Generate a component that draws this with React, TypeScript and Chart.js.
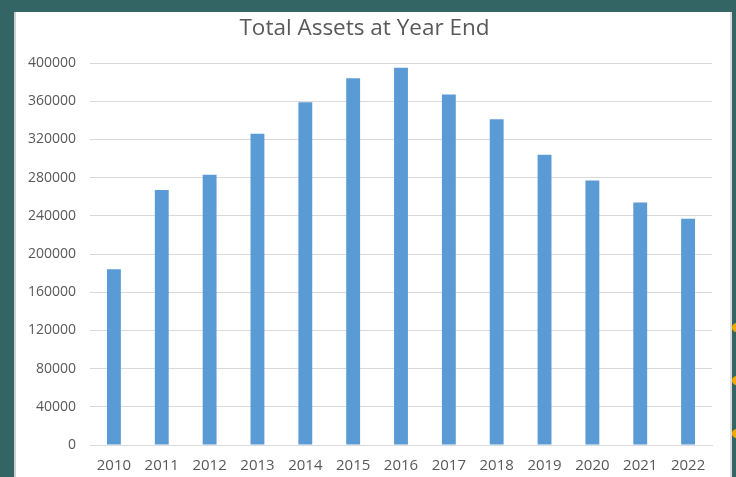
import React, { useEffect, useRef } from "react";
import { Chart, registerables } from "chart.js";

Chart.register(...registerables);

const years = ["2010", "2011", "2012", "2013", "2014", "2015", "2016", "2017", "2018", "2019", "2020", "2021", "2022"];
const totalAssets = [184000, 267000, 283000, 326000, 359000, 384000, 395000, 367000, 341000, 304000, 277000, 254000, 237000];
const titleText = "Total Assets at Year End";
const yMax = 400000;
const yStep = 40000;

const FONT = "'Open Sans', 'Noto Sans', sans-serif";
const TEXT = "#595959";

export default function App() {
  const ref = useRef<HTMLCanvasElement | null>(null);

  useEffect(() => {
    if (!ref.current) return;
    const chart = new Chart(ref.current, {
      type: "bar",
      data: {
        labels: years,
        datasets: [
          {
            label: "Total Assets",
            data: totalAssets,
            backgroundColor: "#5B9BD5",
            borderWidth: 0,
            barPercentage: 0.29,
            categoryPercentage: 1,
          },
        ],
      },
      options: {
        animation: false,
        responsive: true,
        maintainAspectRatio: false,
        layout: { padding: { left: 0, right: 16, top: 0, bottom: 0 } },
        plugins: {
          legend: { display: false },
          tooltip: { enabled: false },
          title: {
            display: true,
            text: titleText,
            color: TEXT,
            font: { family: FONT, size: 22.5, weight: "normal" },
            padding: { top: 3, bottom: 21 },
          },
        },
        scales: {
          x: {
            grid: { display: false, drawTicks: false },
            border: { display: true, color: "#D9D9D9", width: 1 },
            ticks: {
              color: TEXT,
              font: { family: FONT, size: 15 },
              padding: 12,
              maxRotation: 0,
              autoSkip: false,
            },
            afterFit: (scale: any) => {
              scale.height = 32;
            },
          },
          y: {
            min: 0,
            max: yMax,
            grid: { color: "#D9D9D9", lineWidth: 1, drawTicks: false },
            border: { display: false },
            ticks: {
              stepSize: yStep,
              color: TEXT,
              font: { family: FONT, size: 14 },
              padding: 14,
              callback: (v: any) => String(v),
            },
            afterFit: (scale: any) => {
              scale.width = 73;
            },
          },
        },
      },
    });
    return () => chart.destroy();
  }, []);

  const dot = (top: number): React.CSSProperties => ({
    position: "absolute",
    left: 732,
    top,
    width: 9,
    height: 9,
    borderRadius: "50%",
    background: "#F2A900",
  });

  return (
    <div style={{ position: "fixed", left: 0, top: 0, width: 736, height: 477, background: "#346565", overflow: "hidden" }}>
      <div
        style={{
          position: "absolute",
          left: 14,
          top: 12,
          width: 714,
          height: 470,
          background: "#ffffff",
          borderLeft: "2px solid #cfcfcf",
          borderRight: "2px solid #dcdcdc",
        }}
      />
      <div style={{ position: "absolute", left: 17, top: 12, width: 711, height: 465 }}>
        <canvas ref={ref} />
      </div>
      <div style={dot(323)} />
      <div style={dot(376)} />
      <div style={dot(429)} />
    </div>
  );
}
